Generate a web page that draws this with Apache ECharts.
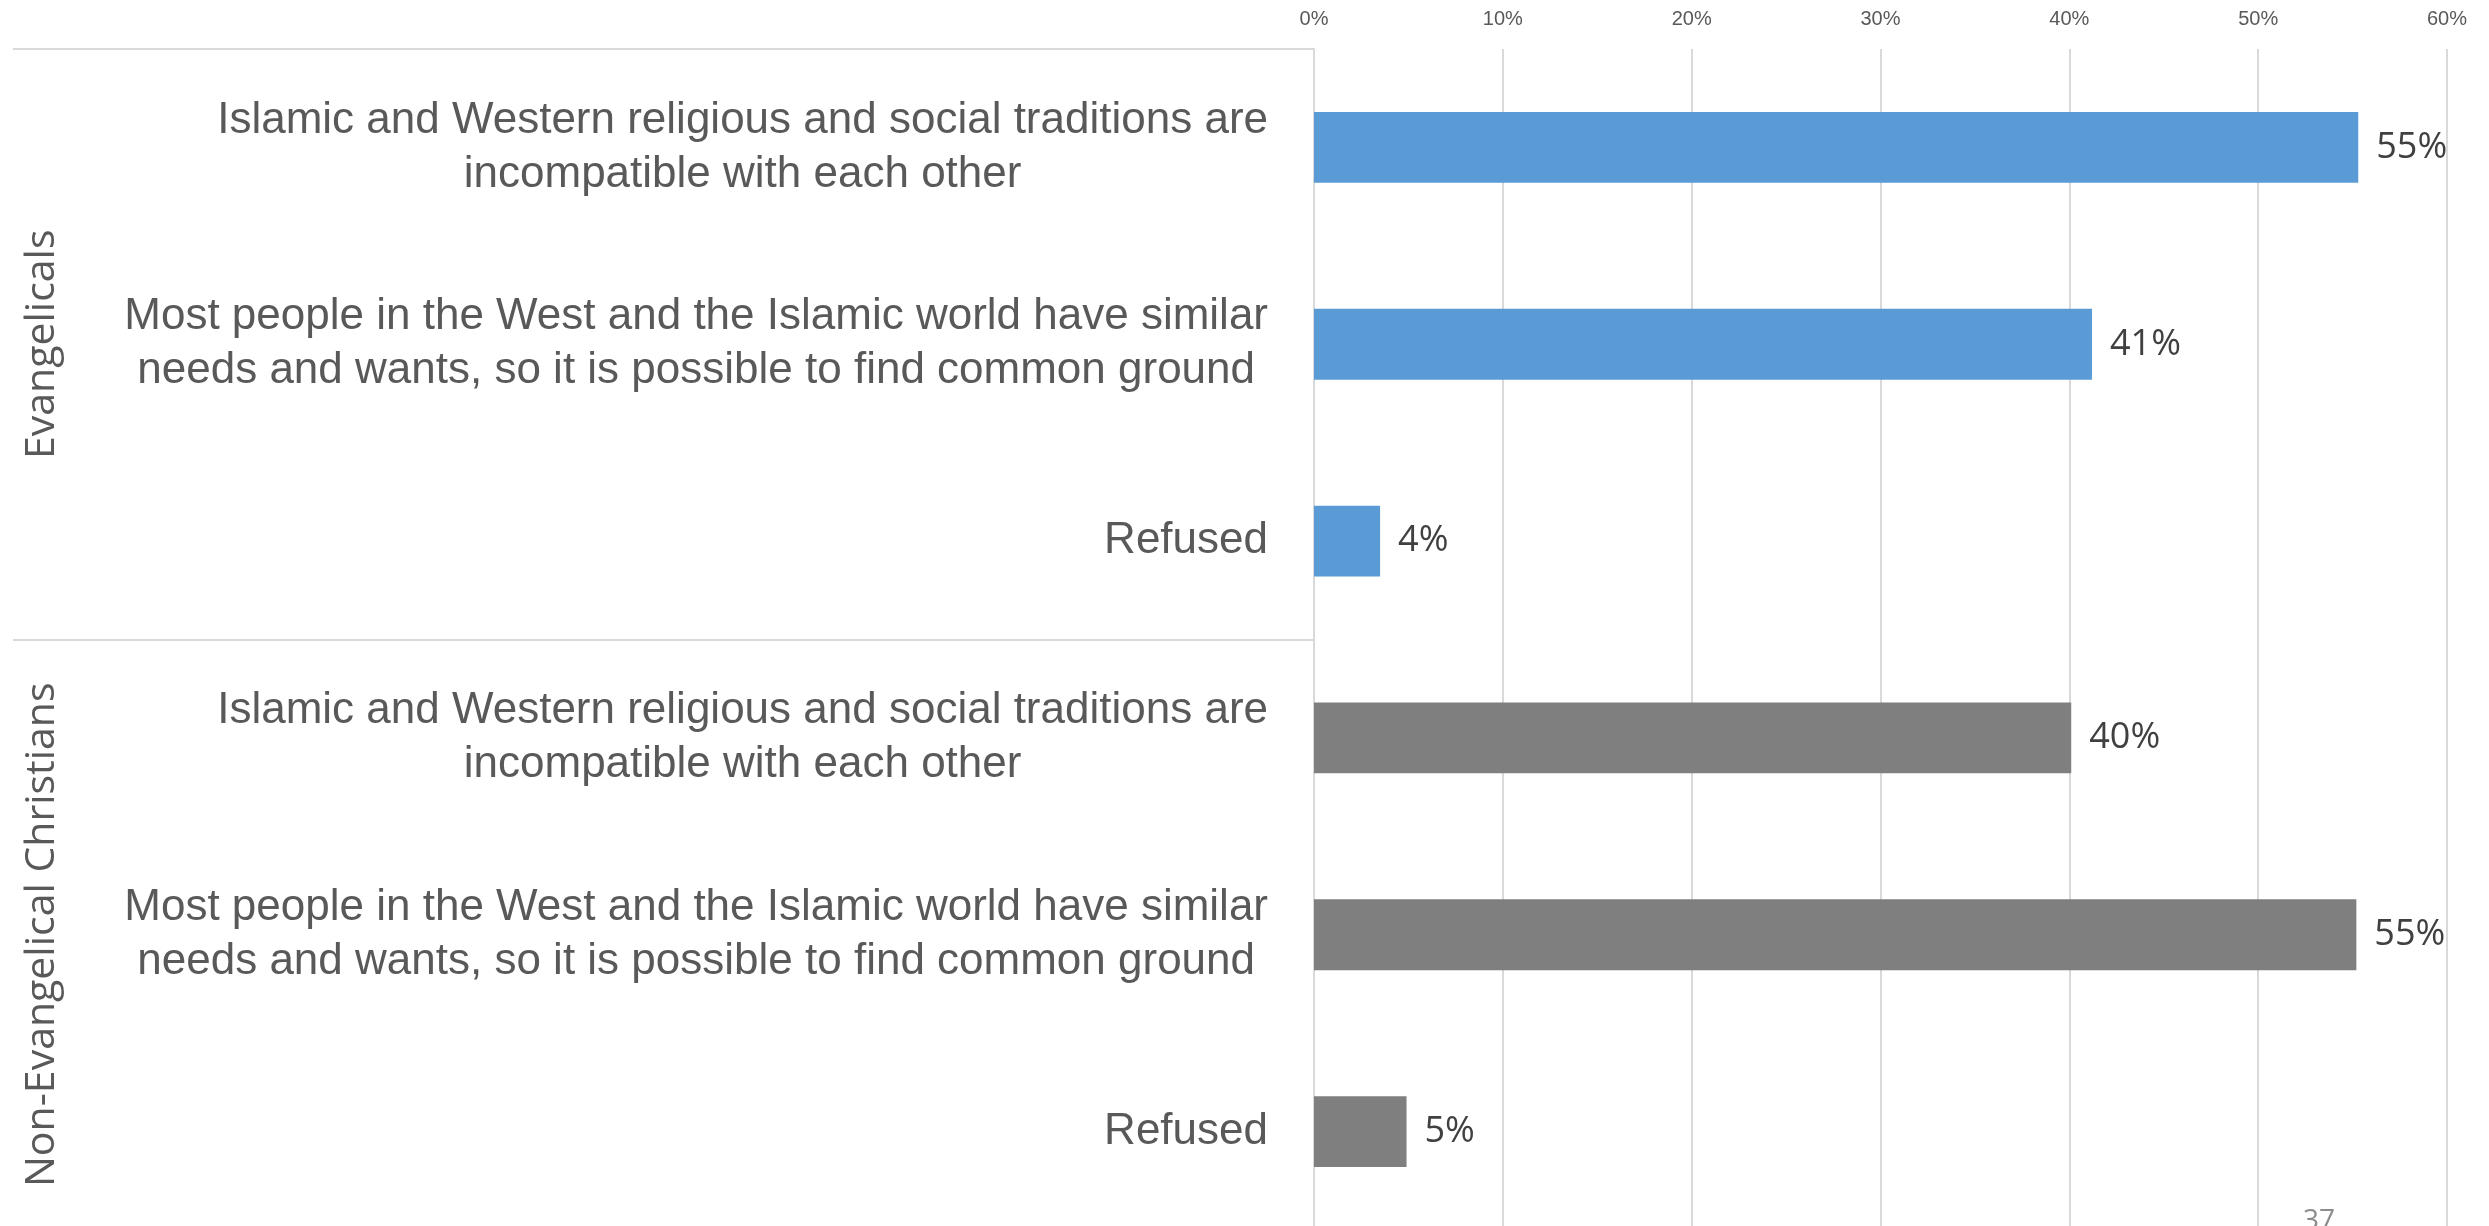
<!DOCTYPE html>
<html>
<head>
<meta charset="utf-8">
<script src="https://cdn.jsdelivr.net/npm/echarts@6/dist/echarts.min.js"></script>
<style>
  html, body { margin: 0; padding: 0; background: #fff; }
  #main { width: 2489px; height: 1226px; }
</style>
</head>
<body>
<div id="main"></div>
<script>
var groups = ['Evangelicals', 'Non-Evangelical Christians'];
var statements = [
    'Islamic and Western religious and social traditions are\nincompatible with each other',
    'Most people in the West and the Islamic world have similar\nneeds and wants, so it is possible to find common ground',
    'Refused'
];
var evangelicals = [55.3, 41.2, 3.5];
var nonEvangelicals = [40.1, 55.2, 4.9];
var xTicks = [0, 10, 20, 30, 40, 50, 60];
var groupColors = ['#5B9BD5', '#7F7F7F'];

var categories = statements.concat(statements);
var values = evangelicals.concat(nonEvangelicals);

var dom = document.getElementById('main');
var myChart = echarts.init(dom);

var gridLeft = 1314;
var lineLeft = 13;

option = {
    animation: false,
    grid: {
        left: gridLeft,
        right: 42,
        top: 49,
        height: 1181,
        outerBoundsMode: 'none'
    },
    xAxis: {
        type: 'value',
        position: 'top',
        min: xTicks[0],
        max: xTicks[xTicks.length - 1],
        interval: 10,
        axisLine: { show: false },
        axisTick: { show: false },
        axisLabel: {
            formatter: '{value}%',
            fontSize: 20,
            fontFamily: 'Liberation Sans Narrow, Liberation Sans, sans-serif',
            color: '#595959',
            margin: 20
        },
        splitLine: {
            lineStyle: { color: '#d9d9d9', width: 2 }
        }
    },
    yAxis: [{
        type: 'category',
        inverse: true,
        data: categories,
        axisLine: {
            lineStyle: { color: '#d9d9d9', width: 2 }
        },
        axisTick: { show: false },
        axisLabel: {
            interval: 0,
            margin: 46,
            align: 'right',
            formatter: function (v) {
                return v.split('\n').map(function (s) { return '{c|' + s + '}'; }).join('\n');
            },
            rich: {
                c: {
                    align: 'center',
                    fontSize: 44,
                    lineHeight: 54,
                    fontFamily: 'Liberation Sans Narrow, Liberation Sans, sans-serif',
                    color: '#595959'
                }
            }
        }
    }, {
        type: 'category',
        inverse: true,
        position: 'left',
        offset: gridLeft - lineLeft,
        data: groups,
        axisLine: { show: false },
        axisTick: {
            show: true,
            inside: true,
            interval: 0,
            length: gridLeft - lineLeft,
            lineStyle: { color: '#d9d9d9', width: 2 }
        },
        axisLabel: {
            inside: true,
            interval: 0,
            rotate: 90,
            margin: 9,
            fontSize: 41,
            fontFamily: 'Open Sans, sans-serif',
            color: '#595959'
        }
    }],
    series: [{
        type: 'bar',
        yAxisIndex: 0,
        barCategoryGap: '64%',
        data: values.map(function (v, i) {
            return {
                value: v,
                itemStyle: { color: groupColors[Math.floor(i / statements.length)] }
            };
        }),
        label: {
            show: true,
            position: 'right',
            distance: 18,
            formatter: function (p) { return Math.round(p.value) + '%'; },
            fontSize: 36,
            fontFamily: 'Open Sans, sans-serif',
            color: '#404040'
        }
    }],
    graphic: [{
        type: 'text',
        left: 2303,
        top: 1207,
        style: {
            text: '37',
            fontSize: 28,
            fontFamily: 'Open Sans, sans-serif',
            fill: '#8c8c8c'
        }
    }]
};

if (option && typeof option === 'object') {
    myChart.setOption(option, true);
}
</script>
</body>
</html>
